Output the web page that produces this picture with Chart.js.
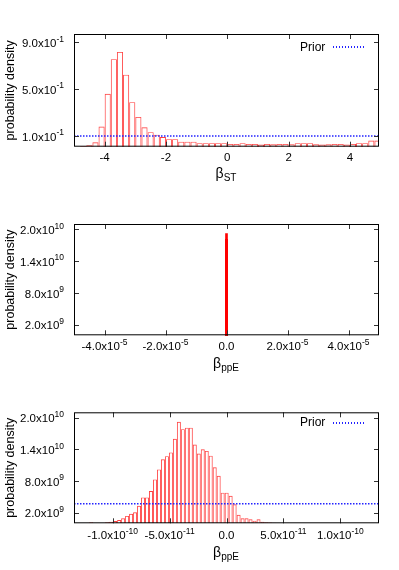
<!DOCTYPE html>
<html>
<head>
<meta charset="utf-8">
<script src="https://cdn.jsdelivr.net/npm/chart.js@4.4.0/dist/chart.umd.min.js"></script>
<style>
body { margin: 0; background: #fff; font-family: "Liberation Sans", Arial, sans-serif; color: #000; }
#page { position: relative; width: 399px; height: 570px; overflow: hidden; }
.panel { position: absolute; left: 0; width: 399px; height: 190px; }
.xlabel { position: absolute; font-size: 14px; line-height: 14px; white-space: nowrap; transform: translateX(-50%); }
.xlabel sub { font-size: 10px; line-height: 0; vertical-align: -3px; }
.key { position: absolute; font-size: 12px; line-height: 11px; white-space: nowrap; }
.keyline { position: absolute; width: 31px; height: 1.5px;
  background: repeating-linear-gradient(to right, #2323ff 0 1.5px, transparent 1.5px 3px); }
</style>
</head>
<body>
<div id="page">
  <div class="panel" style="top:0"><canvas id="stChart" width="399" height="190"></canvas></div>
  <div class="panel" style="top:190px"><canvas id="ppeWideChart" width="399" height="190"></canvas></div>
  <div class="panel" style="top:380px"><canvas id="ppeChart" width="399" height="190"></canvas></div>

  <div class="xlabel" style="left:226px;top:166px">β<sub>ST</sub></div>
  <div class="xlabel" style="left:226px;top:356px">β<sub>ppE</sub></div>
  <div class="xlabel" style="left:226px;top:545px">β<sub>ppE</sub></div>

  <div class="key" style="left:300px;top:42px">Prior</div>
  <div class="keyline" style="left:333px;top:46px"></div>
  <div class="key" style="left:300px;top:417px">Prior</div>
  <div class="keyline" style="left:333px;top:422px"></div>
</div>
<script>
// beta_ST posterior: 50 bins of width 0.2 starting at -5
var stBinStart = -5;
var stBinWidth = 0.2;
var stDensity = [0.005, 0.012, 0.02, 0.046, 0.18, 0.46, 0.755, 0.817, 0.623, 0.388,
  0.262, 0.174, 0.132, 0.111, 0.091, 0.072, 0.072, 0.051, 0.051, 0.051,
  0.038, 0.038, 0.038, 0.038, 0.038, 0.032, 0.032, 0.038, 0.032, 0.032,
  0.026, 0.032, 0.029, 0.032, 0.032, 0.029, 0.038, 0.038, 0.038, 0.029,
  0.026, 0.029, 0.032, 0.032, 0.026, 0.032, 0.038, 0.038, 0.06, 0.06];
var stPrior = 0.1;
var stXTicks = [-4, -2, 0, 2, 4];
var stXLabels = ['-4', '-2', '0', '2', '4'];
var stYTicks = [0.1, 0.5, 0.9];
var stYLabels = ['1.0x10^-1', '5.0x10^-1', '9.0x10^-1'];

// beta_ppE posterior: 47 bins of width 3.5e-12
var ppeBinStart = -1.206e-10;
var ppeBinWidth = 3.5e-12;
var ppeDensity = [0.2e9, 0, 0, 0, 0.2e9, 0.3e9, 0.43e9, 0.62e9, 0.94e9, 1.4e9,
  1.8e9, 2.07e9, 3.3e9, 4.9e9, 4.9e9, 6.1e9, 8.3e9, 10.2e9, 12.1e9, 12.7e9,
  13.4e9, 16.0e9, 19.2e9, 17.8e9, 18.1e9, 18.1e9, 14.9e9, 13.2e9, 14.0e9, 13.7e9,
  12.8e9, 10.6e9, 9.0e9, 5.8e9, 5.8e9, 5.2e9, 3.6e9, 1.6e9, 0.94e9, 0.94e9,
  0.75e9, 0.5e9, 0.75e9, 0.3e9, 0.2e9, 0.15e9, 0.1e9];
var ppePrior = 3.7e9;
var ppeXTicks = [-1e-10, -5e-11, 0, 5e-11, 1e-10];
var ppeXLabels = ['-1.0x10^-10', '-5.0x10^-11', '0.0', '5.0x10^-11', '1.0x10^-10'];
var ppeYTicks = [2e9, 8e9, 1.4e10, 2e10];
var ppeYLabels = ['2.0x10^9', '8.0x10^9', '1.4x10^10', '2.0x10^10'];
var wideXTicks = [-4e-5, -2e-5, 0, 2e-5, 4e-5];
var wideXLabels = ['-4.0x10^-5', '-2.0x10^-5', '0.0', '2.0x10^-5', '4.0x10^-5'];

var FONT = "'Liberation Sans', Arial, sans-serif";
Chart.defaults.font.family = FONT;
Chart.defaults.color = '#000';

function histPoints(start, width, values) {
  return values.map(function (v, i) {
    return { x: start + (i + 0.5) * width, y: v };
  });
}

// gnuplot style label: mantissa with a raised, smaller exponent
function drawExpLabel(ctx, text, x, y, align) {
  var parts = text.split('^');
  ctx.font = '11.5px ' + FONT;
  var bw = ctx.measureText(parts[0]).width;
  ctx.font = '8.5px ' + FONT;
  var ew = parts[1] ? ctx.measureText(parts[1]).width : 0;
  var x0 = align === 'right' ? x - bw - ew : x - (bw + ew) / 2;
  ctx.textAlign = 'left';
  ctx.textBaseline = 'middle';
  ctx.font = '11.5px ' + FONT;
  ctx.fillText(parts[0], x0, y);
  if (parts[1]) {
    ctx.font = '8.5px ' + FONT;
    ctx.fillText(parts[1], x0 + bw, y - 4.5);
  }
}

// box around the plot, inward ticks on all four sides, tick labels
var frame = {
  id: 'frame',
  afterDatasetsDraw: function (chart, args, opts) {
    var ctx = chart.ctx, a = chart.chartArea;
    var xs = chart.scales.x, ys = chart.scales.y;
    ctx.save();
    ctx.strokeStyle = '#333';
    ctx.lineWidth = 1;
    ctx.beginPath();
    xs.ticks.forEach(function (t) {
      var px = Math.round(xs.getPixelForValue(t.value)) + 0.5;
      ctx.moveTo(px, a.bottom); ctx.lineTo(px, a.bottom - 5);
      ctx.moveTo(px, a.top); ctx.lineTo(px, a.top + 5);
    });
    ys.ticks.forEach(function (t) {
      var py = Math.round(ys.getPixelForValue(t.value)) + 0.5;
      ctx.moveTo(a.left, py); ctx.lineTo(a.left + 5, py);
      ctx.moveTo(a.right, py); ctx.lineTo(a.right - 5, py);
    });
    ctx.stroke();
    ctx.strokeStyle = '#000';
    ctx.strokeRect(a.left + 0.5, a.top + 0.5, a.right - a.left - 1, a.bottom - a.top - 1);

    ctx.fillStyle = '#000';
    xs.ticks.forEach(function (t, i) {
      drawExpLabel(ctx, opts.xLabels[i], xs.getPixelForValue(t.value), a.bottom + opts.xOffset, 'center');
    });
    ys.ticks.forEach(function (t, i) {
      drawExpLabel(ctx, opts.yLabels[i], a.left - 10, ys.getPixelForValue(t.value) + 1.5, 'right');
    });
    ctx.restore();
  }
};

function makePanel(id, cfg) {
  return new Chart(document.getElementById(id), {
    type: 'bar',
    data: { datasets: cfg.datasets },
    options: {
      responsive: false,
      animation: false,
      events: [],
      layout: { padding: { top: cfg.top, right: 20, left: 0, bottom: 0 } },
      plugins: {
        legend: { display: false },
        tooltip: { enabled: false },
        frame: { xLabels: cfg.xLabels, yLabels: cfg.yLabels, xOffset: cfg.xOffset }
      },
      scales: {
        x: {
          type: 'linear', min: cfg.xMin, max: cfg.xMax, offset: false,
          grid: { display: false, drawTicks: false },
          border: { display: false },
          afterBuildTicks: function (s) { s.ticks = cfg.xTicks.map(function (v) { return { value: v }; }); },
          afterFit: function (s) { s.height = cfg.xHeight; },
          ticks: { display: false, autoSkip: false, maxRotation: 0 }
        },
        y: {
          type: 'linear', min: cfg.yMin, max: cfg.yMax,
          grid: { display: false, drawTicks: false },
          border: { display: false },
          afterBuildTicks: function (s) { s.ticks = cfg.yTicks.map(function (v) { return { value: v }; }); },
          afterFit: function (s) { s.width = 74; },
          ticks: { display: false, autoSkip: false },
          title: { display: true, text: 'probability density', font: { size: 12.5 }, padding: { top: 3.5, bottom: 0 } }
        }
      }
    },
    plugins: [frame]
  });
}

function priorLine(xMin, xMax, level) {
  return {
    type: 'line', order: 0,
    data: [{ x: xMin, y: level }, { x: xMax, y: level }],
    borderColor: '#2323ff', borderWidth: 1.5, borderDash: [1.5, 1.5],
    pointRadius: 0, fill: false
  };
}

function histBars(start, width, values) {
  return {
    type: 'bar', order: 1,
    data: histPoints(start, width, values),
    backgroundColor: 'rgba(0,0,0,0)',
    borderColor: 'rgba(255,0,0,0.75)', borderWidth: 0.9,
    inflateAmount: 0,
    barPercentage: 1, categoryPercentage: 1
  };
}

makePanel('stChart', {
  top: 34, xHeight: 43.3, xOffset: 11.5,
  xMin: -5, xMax: 4.95, yMin: 0.008, yMax: 0.97,
  xTicks: stXTicks, xLabels: stXLabels, yTicks: stYTicks, yLabels: stYLabels,
  datasets: [priorLine(-5, 4.95, stPrior), histBars(stBinStart, stBinWidth, stDensity)]
});

makePanel('ppeWideChart', {
  top: 34, xHeight: 44.7, xOffset: 11.5,
  xMin: -5e-5, xMax: 5e-5, yMin: 0, yMax: 2.1e10,
  xTicks: wideXTicks, xLabels: wideXLabels, yTicks: ppeYTicks, yLabels: ppeYLabels,
  datasets: [{
    type: 'bar',
    data: histPoints(ppeBinStart, ppeBinWidth, ppeDensity),
    backgroundColor: '#ff0000', borderWidth: 0, barThickness: 2
  }]
});

makePanel('ppeChart', {
  top: 32.3, xHeight: 46.7, xOffset: 13,
  xMin: -1.34e-10, xMax: 1.34e-10, yMin: 0, yMax: 2.1e10,
  xTicks: ppeXTicks, xLabels: ppeXLabels, yTicks: ppeYTicks, yLabels: ppeYLabels,
  datasets: [priorLine(-1.34e-10, 1.34e-10, ppePrior), histBars(ppeBinStart, ppeBinWidth, ppeDensity)]
});
</script>
</body>
</html>
